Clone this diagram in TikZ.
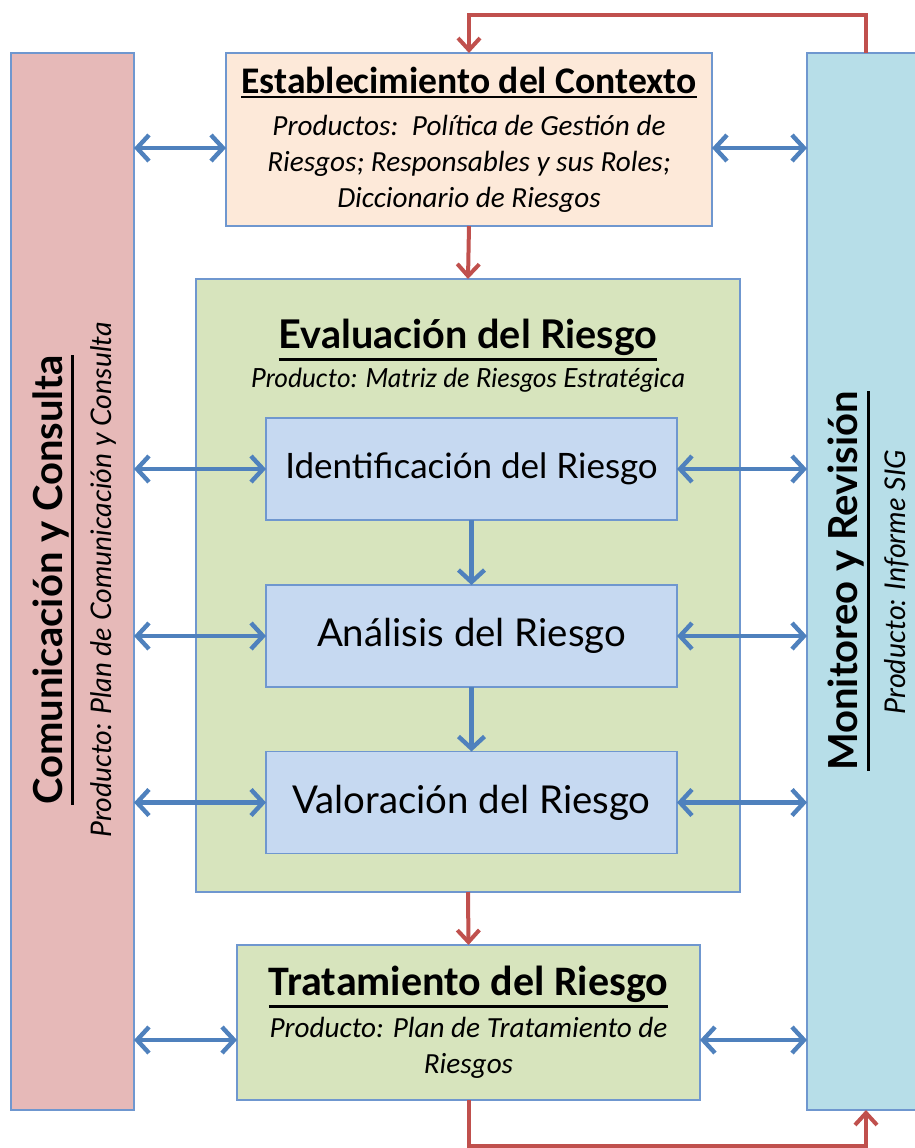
\documentclass[tikz,border=0pt]{standalone}
\usepackage{fontspec}
\setmainfont{Carlito}
\newfontfamily\humanista{Lato}
\usetikzlibrary{arrows.meta}

\definecolor{rosa}{HTML}{E6B9B8}
\definecolor{celeste}{HTML}{B7DEE8}
\definecolor{durazno}{HTML}{FDE9D9}
\definecolor{verde}{HTML}{D7E4BD}
\definecolor{azulclaro}{HTML}{C6D9F1}
\definecolor{borde}{HTML}{6F97CF}
\definecolor{azulflecha}{HTML}{4F81BD}
\definecolor{rojo}{HTML}{C0504D}

\newcommand{\subrayado}[1]{\leavevmode\vtop{\hbox{#1}\kern1.3pt\hrule height 1.2pt}}

\begin{document}
\begin{tikzpicture}[
  x=0.5pt,y=-0.5pt,
  caja/.style={shape=rectangle,draw=borde,line width=0.8pt,inner sep=0pt,outer sep=0pt},
  paso/.style={caja,fill=azulclaro,minimum width=205.5pt,minimum height=51pt,
    font=\humanista\fontsize{19.2}{22}\selectfont},
  doble/.style={draw=azulflecha,line width=2.2pt,>={Straight Barb[length=6pt,width=13pt]},<->},
  baja/.style={draw=azulflecha,line width=2.2pt,>={Straight Barb[length=6pt,width=13pt]},->},
  flujo/.style={draw=rojo,line width=2pt,>={Straight Barb[length=6pt,width=11pt]},->}
]
  \useasboundingbox (0,0) rectangle (915,1148);

  \node[caja,fill=rosa,minimum width=61.5pt,minimum height=528.5pt] (comunica) at (72.5,581.5) {};
  \node[caja,fill=celeste,minimum width=64pt,minimum height=528.5pt] (monitoreo) at (871,581.5) {};

  \node[rotate=90,font=\humanista\bfseries\fontsize{20}{23}\selectfont] (comtit) at (53,580)
    {\subrayado{Comunicación y Consulta}};
  \node[rotate=90,font=\humanista\itshape\fontsize{14.2}{17}\selectfont] (comprod) at (103,580)
    {Producto: Plan de Comunicación y Consulta};
  \node[rotate=90,font=\humanista\bfseries\fontsize{20}{23}\selectfont] (montit) at (849,581)
    {\subrayado{Monitoreo y Revisión}};
  \node[rotate=90,font=\humanista\itshape\fontsize{14.3}{17}\selectfont] (monprod) at (897,582)
    {Producto: Informe SIG};

  \node[caja,fill=durazno,minimum width=243pt,minimum height=86.5pt,align=center,
    font=\itshape\fontsize{14.6}{18}\selectfont] (contexto) at (469,139.5)
    {{\upshape\bfseries\fontsize{18.8}{20}\selectfont\subrayado{Establecimiento del Contexto}}\\[3pt]
     Productos:\, Política de Gestión de\\ Riesgos; Responsables y sus Roles;\\ Diccionario de Riesgos};

  \node[caja,fill=verde,minimum width=272pt,minimum height=306.5pt] (evaluacion) at (468,585.5) {};
  \node[font=\humanista\bfseries\fontsize{19.8}{22}\selectfont] (evaltit) at (468,340)
    {\subrayado{Evaluación del Riesgo}};
  \node[font=\humanista\itshape\fontsize{13.2}{15}\selectfont] (evalprod) at (468,380)
    {Producto: Matriz de Riesgos Estratégica};

  \node[paso,font=\humanista\fontsize{17.5}{20}\selectfont] (identificacion) at (471.5,469) {Identificación del Riesgo};
  \node[paso] (analisis)   at (471.5,636)   {Análisis del Riesgo};
  \node[paso] (valoracion) at (471.5,802.5) {Valoración del Riesgo};

  \node[caja,fill=verde,minimum width=231.5pt,minimum height=77.5pt,align=center,
    font=\itshape\fontsize{14.6}{18}\selectfont] (tratamiento) at (468.5,1022.5)
    {{\upshape\bfseries\fontsize{21}{22}\selectfont\subrayado{Tratamiento del Riesgo}}\\[3pt]
     Producto: Plan de Tratamiento de\\ Riesgos};

  \draw[doble] ([yshift=-4.25pt]contexto.west -| comunica.east) -- ([yshift=-4.25pt]contexto.west);
  \draw[doble] ([yshift=-4.25pt]contexto.east) -- ([yshift=-4.25pt]contexto.east -| monitoreo.west);
  \draw[doble] (comunica.east |- identificacion.west) -- (identificacion.west);
  \draw[doble] (identificacion.east) -- (identificacion.east -| monitoreo.west);
  \draw[doble] (comunica.east |- analisis.west) -- (analisis.west);
  \draw[doble] (analisis.east) -- (analisis.east -| monitoreo.west);
  \draw[doble] (comunica.east |- valoracion.west) -- (valoracion.west);
  \draw[doble] (valoracion.east) -- (valoracion.east -| monitoreo.west);
  \draw[doble] ([yshift=-8.75pt]tratamiento.west -| comunica.east) -- ([yshift=-8.75pt]tratamiento.west);
  \draw[doble] ([yshift=-8.75pt]tratamiento.east) -- ([yshift=-8.75pt]tratamiento.east -| monitoreo.west);

  \draw[baja] (identificacion.south) -- (analisis.north);
  \draw[baja] (analisis.south) -- (valoracion.north);

  \draw[flujo] (contexto.south) -- (evaluacion.north);
  \draw[flujo] (evaluacion.south) -- (tratamiento.north);
  \draw[flujo] ([xshift=-2.5pt]monitoreo.north) -- ++(0,-38) -| (contexto.north);
  \draw[flujo] (tratamiento.south) -- ++(0,46) -| ([xshift=-2.5pt]monitoreo.south);
\end{tikzpicture}
\end{document}
